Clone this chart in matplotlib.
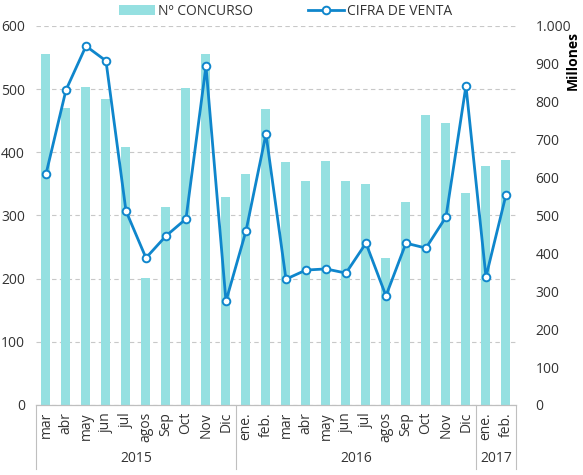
import matplotlib
matplotlib.use("Agg")
from matplotlib import pyplot as plt
import numpy as np

months = ["mar", "abr", "may", "jun", "jul", "agos", "Sep", "Oct", "Nov", "Dic",
          "ene.", "feb.", "mar", "abr", "may", "jun", "jul", "agos", "Sep", "Oct", "Nov", "Dic",
          "ene.", "feb."]
years = ["2015", "2016", "2017"]
year_counts = [10, 12, 2]
concurso = [555, 470, 503, 485, 408, 201, 313, 502, 556, 329,
            365, 468, 384, 355, 387, 355, 350, 233, 322, 459, 447, 336,
            378, 388]
venta = [609, 831, 947, 908, 512, 388, 446, 491, 894, 274,
         459, 715, 332, 356, 359, 348, 427, 288, 427, 414, 496, 842,
         338, 554]

plt.rcParams['font.family'] = ['Open Sans', 'DejaVu Sans']
txt = "#333333"

fig = plt.figure(figsize=(5.83, 4.75), dpi=100)
ax = fig.add_axes([0.0617, 0.1474, 0.8233, 0.7979])
ax2 = ax.twinx()

x = np.arange(len(months))
ax.bar(x, concurso, width=0.45, color="#95e0e1", label="Nº CONCURSO", zorder=2)
ax2.plot(x, venta, color="#0f86cc", lw=2, marker="o", ms=5.5, mfc="white",
         mec="#0f86cc", mew=1.4, label="CIFRA DE VENTA", zorder=3)

ax.set_xlim(-0.5, len(months) - 0.5)
ax.set_ylim(0, 600)
ax2.set_ylim(0, 1000)
ax.set_yticks(range(0, 601, 100))
ax2.set_yticks(range(0, 1001, 100))
ax2.set_yticklabels(["0", "100", "200", "300", "400", "500", "600", "700", "800", "900", "1.000"])
ax.yaxis.grid(True, ls=(0, (4, 3)), color="#c8c8c8", lw=0.8, zorder=0)
ax.set_axisbelow(True)
for a in (ax, ax2):
    for s in ["top", "left", "right"]:
        a.spines[s].set_visible(False)
    a.spines["bottom"].set_color("#bfbfbf")
    a.tick_params(axis="y", length=0, labelsize=10, labelcolor=txt)
ax.tick_params(axis="y", pad=8)
ax2.tick_params(axis="y", pad=14)
ax2.set_ylabel("Millones", fontsize=10, fontweight="bold", color="black")
ax2.yaxis.set_label_coords(1.103, 0.91)

ax.set_xticks(x)
ax.set_xticklabels(months, rotation=90, fontsize=10, color=txt)
ax.tick_params(axis="x", length=0, pad=5)

# group separators and year labels
start = 0
bounds = [-0.5]
for n in year_counts:
    start += n
    bounds.append(start - 0.5)
for b in bounds:
    ax.plot([b, b], [0, -0.17], transform=ax.get_xaxis_transform(), color="#bfbfbf",
            lw=0.8, clip_on=False)
for i, yr in enumerate(years):
    mid = (bounds[i] + bounds[i + 1]) / 2
    ax.text(mid, -0.14, yr, transform=ax.get_xaxis_transform(), ha="center",
            va="center", fontsize=10, color=txt)

h1, l1 = ax.get_legend_handles_labels()
h2, l2 = ax2.get_legend_handles_labels()
ax.legend(h1 + h2, l1 + l2, loc="lower center", bbox_to_anchor=(0.52, 0.985), ncol=2,
          frameon=False, fontsize=10, handlelength=2.6, columnspacing=4,
          handletextpad=0.2, labelcolor=txt)

fig.savefig("out.png", dpi=100)
